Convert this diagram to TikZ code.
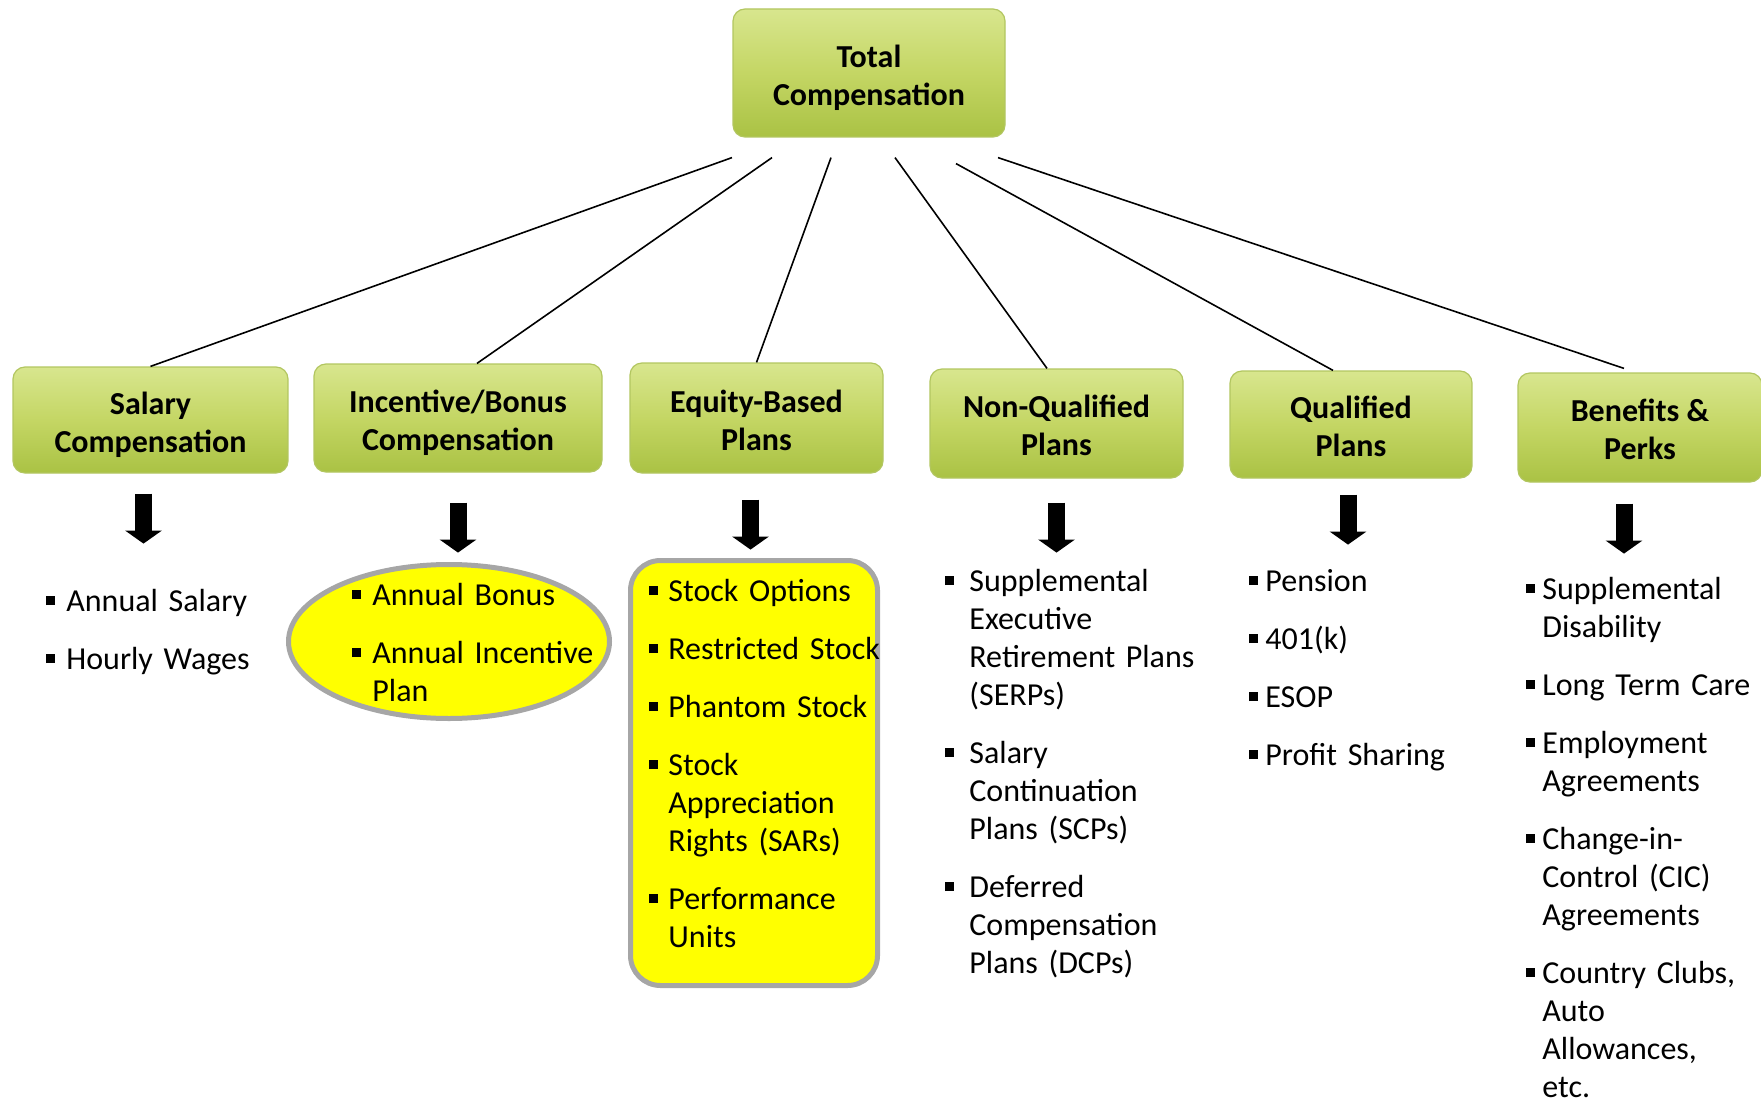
\documentclass[tikz,border=0pt]{standalone}
\usepackage{fontspec}
\setmainfont{Carlito}
\usepackage{xcolor}
\usepackage{tikz}
\usetikzlibrary{positioning,arrows.meta,shapes.geometric}

\definecolor{headtop}{RGB}{216,230,142}
\definecolor{headmid}{RGB}{196,214,100}
\definecolor{headbot}{RGB}{170,194,68}
\definecolor{headedge}{RGB}{178,198,96}
\definecolor{hiliteyellow}{RGB}{255,255,0}
\definecolor{hiliteedge}{RGB}{166,166,166}

\newlength{\bhang}
\setlength{\bhang}{10pt}
\newcommand{\bitem}[1]{\hangindent=\bhang\hangafter=1\noindent\makebox[\bhang][l]{\rule[3pt]{4.3pt}{4.3pt}}#1\par\vskip10pt}
\newcommand{\headtext}[1]{\raisebox{-2.75pt}[\height][\depth]{\begin{tabular}{@{}c@{}}#1\end{tabular}}}

\tikzset{
    compbox/.style={rounded corners=6pt, top color=headtop, bottom color=headbot, middle color=headmid, draw=headedge, line width=0.6pt, inner sep=0pt, font=\bfseries\fontsize{16}{19}\selectfont},
    complist/.style={anchor=base west, inner sep=0pt, text width=150pt, align=left, font=\fontsize{16}{19}\selectfont,
        execute at begin node={\setlength{\bhang}{#1}}},
    complist/.default=10pt,
    branchline/.style={draw, line width=0.8pt},
    downarrow/.style={draw, line width=8.5pt, -{Triangle[length=6.5pt, width=18pt]}},
    hiliteoval/.style={draw=hiliteedge, line width=2.5pt, fill=hiliteyellow, ellipse, inner sep=0pt},
    hilitebox/.style={draw=hiliteedge, line width=2.5pt, fill=hiliteyellow, rounded corners=15pt, inner sep=0pt}
}

\begin{document}
\begin{tikzpicture}[x=0.5pt, y=-0.5pt]
    \useasboundingbox (0,0) rectangle (1761,1102);

    % heading boxes
    \node[compbox, minimum width=136pt, minimum height=64pt] (total) at (869,73) {\headtext{Total\\Compensation}};
    \node[compbox, minimum width=137.5pt, minimum height=53pt] (salary) at (150.5,420) {\headtext{Salary\\Compensation}};
    \node[compbox, minimum width=144pt, minimum height=54pt] (incentive) at (458,418) {\headtext{Incentive/Bonus\\Compensation}};
    \node[compbox, minimum width=126.5pt, minimum height=55pt] (equity) at (756.5,418) {\headtext{Equity-Based\\Plans}};
    \node[compbox, minimum width=126.5pt, minimum height=54.5pt] (nonqual) at (1056.5,423.5) {\headtext{Non-Qualified\\Plans}};
    \node[compbox, minimum width=121pt, minimum height=53.5pt] (qualified) at (1351,424.5) {\headtext{Qualified\\Plans}};
    \node[compbox, minimum width=122pt, minimum height=54.5pt] (benefits) at (1640,427.5) {\headtext{Benefits \&\\Perks}};

    \draw[branchline] ([xshift=-68.5pt,yshift=-10pt]total.south) -- (salary.north);
    \draw[branchline] ([xshift=-48.5pt,yshift=-10pt]total.south) -- ([xshift=9.5pt]incentive.north);
    \draw[branchline] ([xshift=-19pt,yshift=-10pt]total.south) -- (equity.north);
    \draw[branchline] ([xshift=13pt,yshift=-10pt]total.south) -- ([xshift=-4.75pt]nonqual.north);
    \draw[branchline] ([xshift=43.5pt,yshift=-13pt]total.south) -- ([xshift=-9pt]qualified.north);
    \draw[branchline] ([xshift=64.5pt,yshift=-10pt]total.south) -- ([xshift=-8pt,yshift=2pt]benefits.north);

    \draw[downarrow] ([xshift=-3.5pt,yshift=-10pt]salary.south) -- ++(0,50);
    \draw[downarrow] ([yshift=-15pt]incentive.south) -- ++(0,50);
    \draw[downarrow] ([xshift=-3pt,yshift=-13pt]equity.south) -- ++(0,50);
    \draw[downarrow] ([yshift=-12pt]nonqual.south) -- ++(0,50);
    \draw[downarrow] ([xshift=-1.5pt,yshift=-8pt]qualified.south) -- ++(0,50);
    \draw[downarrow] ([xshift=-8pt,yshift=-10.5pt]benefits.south) -- ++(0,50);

    % highlighted groups
    \node[hiliteoval, minimum width=160.5pt, minimum height=77pt] (bonusoval) at (449,641.5) {};
    \node[hilitebox, minimum width=123.5pt, minimum height=212.5pt] (equitybox) at (754,773) {};

    \node[complist] (salarylist) at (46,611) {\bitem{Annual Salary}\bitem{Hourly Wages}};
    \node[complist] (incentivelist) at (352,605) {\bitem{Annual Bonus}\bitem{Annual Incentive\newline Plan}};
    \node[complist=9.5pt] (equitylist) at (649,601) {\bitem{Stock Options}\bitem{Restricted Stock}\bitem{Phantom Stock}\bitem{Stock\newline Appreciation\newline Rights (SARs)}\bitem{Performance\newline Units}};
    \node[complist=12pt] (nonquallist) at (945,591) {\bitem{Supplemental\newline Executive\newline Retirement Plans\newline (SERPs)}\bitem{Salary\newline Continuation\newline Plans (SCPs)}\bitem{Deferred\newline Compensation\newline Plans (DCPs)}};
    \node[complist=8pt] (qualifiedlist) at (1249,591) {\bitem{Pension}\bitem{401(k)}\bitem{ESOP}\bitem{Profit Sharing}};
    \node[complist=8pt] (benefitslist) at (1526,599) {\bitem{Supplemental\newline Disability}\bitem{Long Term Care}\bitem{Employment\newline Agreements}\bitem{Change-in-\newline Control (CIC)\newline Agreements}\bitem{Country Clubs,\newline Auto\newline Allowances,\newline etc.}};
\end{tikzpicture}
\end{document}
